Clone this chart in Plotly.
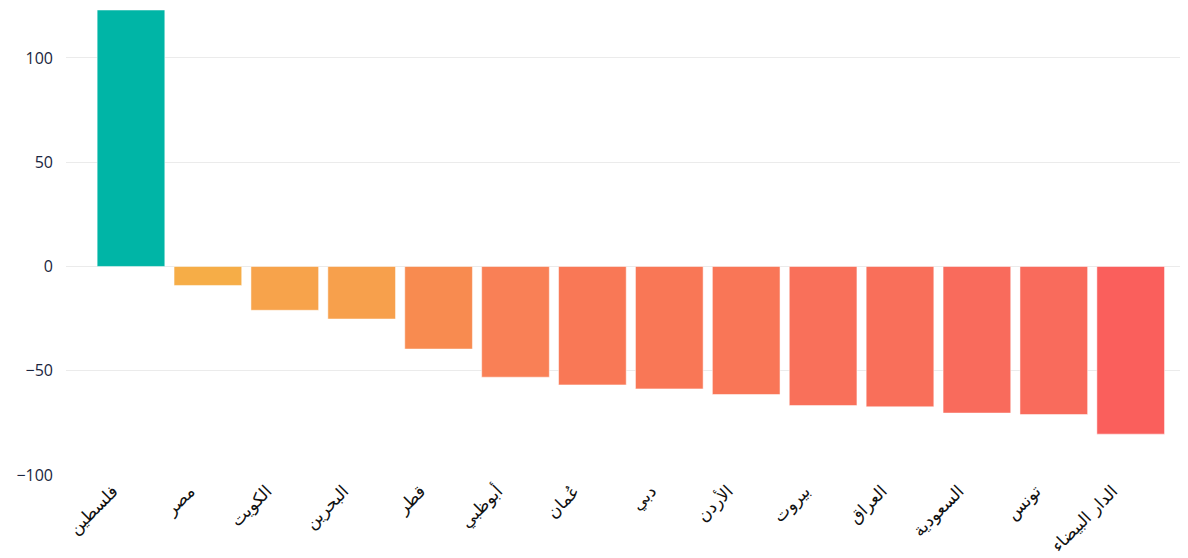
import plotly.graph_objects as go

cities = ["فلسطين", "مصر", "الكويت", "البحرين", "قطر", "أبوظبي", "عُمان", "دبي",
          "الأردن", "بيروت", "العراق", "السعودية", "تونس", "الدار البيضاء"]
values = [123, -9.1, -21, -25.2, -39.6, -53.1, -56.8, -58.7, -61.4, -66.7, -67.3, -70.3, -71, -80.4]
colors = ["#00B5A6", "#F6AD47", "#F7A34B", "#F7A04C", "#F88B50", "#F98056", "#F97856",
          "#F97756", "#F97657", "#F9705A", "#F96F5A", "#F96B5C", "#F96B5C", "#FA5F5C"]
y_ticks = [-100, -50, 0, 50, 100]

fig = go.Figure(go.Bar(
    x=cities, y=values,
    marker=dict(color=colors, line=dict(color="rgba(255,255,255,0.5)", width=1)),
))

fig.update_layout(
    width=1180, height=550,
    margin=dict(l=58, r=0, t=2, b=83, autoexpand=False),
    paper_bgcolor="white", plot_bgcolor="white",
    bargap=0.12,
    showlegend=False,
    font=dict(family="Open Sans, DejaVu Sans, sans-serif", size=16, color="#1a2540"),
    xaxis=dict(range=[-0.845, 13.745], tickangle=-45, showgrid=False, showline=False,
               automargin=False, ticks="", ticklabelshift=-18, ticklabelstandoff=2,
               tickfont=dict(family="DejaVu Sans, Noto Sans, sans-serif", size=17, color="#111111")),
    yaxis=dict(range=[-100, 123], tickvals=y_ticks, showgrid=True, gridcolor="#ebebeb",
               gridwidth=1, zeroline=True, zerolinecolor="#ebebeb", zerolinewidth=1,
               automargin=False, showline=False, ticks="", ticklabelstandoff=12),
)

fig.write_html("out.html")
